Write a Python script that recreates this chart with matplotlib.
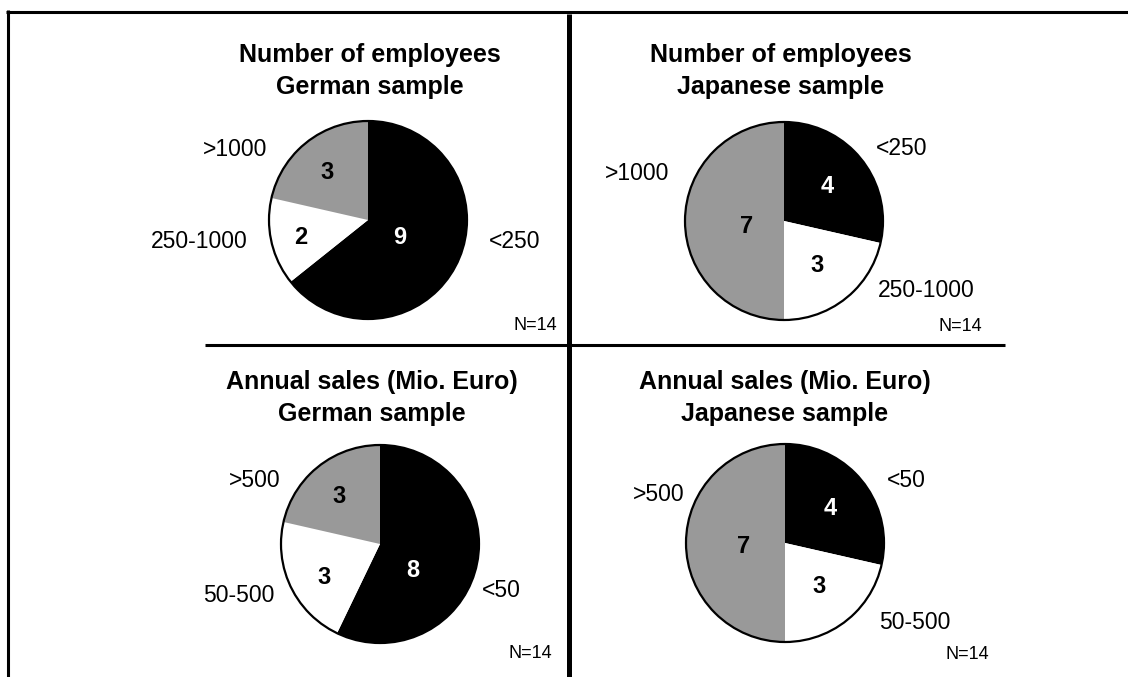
import matplotlib
matplotlib.use("Agg")
import matplotlib.pyplot as plt
from matplotlib.lines import Line2D
from matplotlib.patches import Circle

plt.rcParams['font.family'] = ['Liberation Sans', 'DejaVu Sans']

W, H = 1128, 677

# ---- data ----
titles = [
    "Number of employees\nGerman sample",
    "Number of employees\nJapanese sample",
    "Annual sales (Mio. Euro)\nGerman sample",
    "Annual sales (Mio. Euro)\nJapanese sample",
]
emp_categories = ["<250", "250-1000", ">1000"]
sales_categories = ["<50", "50-500", ">500"]
emp_german = [9, 2, 3]
emp_japanese = [4, 3, 7]
sales_german = [8, 3, 3]
sales_japanese = [4, 3, 7]
sample_n = [14, 14, 14, 14]

colors = ["#000000", "#ffffff", "#999999"]
value_colors = ["white", "black", "black"]

panels = [
    dict(cats=emp_categories, vals=emp_german, center=(368, 220),
         title_xy=(370, 71),
         cat_pos=[(1.48, -0.22), (-1.70, -0.22), (-1.34, 0.71)],
         val_pos=[(0.32, -0.18), (-0.68, -0.18), (-0.41, 0.48)],
         n_pos=(1.69, -1.07)),
    dict(cats=emp_categories, vals=emp_japanese, center=(784, 221),
         title_xy=(781, 71),
         cat_pos=[(1.19, 0.73), (1.44, -0.70), (-1.48, 0.48)],
         val_pos=[(0.44, 0.35), (0.33, -0.45), (-0.38, -0.06)],
         n_pos=(1.78, -1.07)),
    dict(cats=sales_categories, vals=sales_german, center=(380, 544),
         title_xy=(372, 398),
         cat_pos=[(1.23, -0.47), (-1.43, -0.52), (-1.27, 0.64)],
         val_pos=[(0.33, -0.27), (-0.57, -0.34), (-0.41, 0.48)],
         n_pos=(1.52, -1.11)),
    dict(cats=sales_categories, vals=sales_japanese, center=(785, 543),
         title_xy=(785, 398),
         cat_pos=[(1.23, 0.63), (1.31, -0.80), (-1.28, 0.49)],
         val_pos=[(0.46, 0.35), (0.34, -0.44), (-0.42, -0.04)],
         n_pos=(1.84, -1.13)),
]

R = 99

fig = plt.figure(figsize=(W / 100, H / 100), dpi=100)
fig.patch.set_facecolor("white")

for i, p in enumerate(panels):
    cx, cy = p["center"]
    ax = fig.add_axes([(cx - R) / W, (H - cy - R) / H, 2 * R / W, 2 * R / H])
    ax.pie(p["vals"], colors=colors, startangle=90, counterclock=False,
           wedgeprops=dict(linewidth=0))
    ax.add_patch(Circle((0, 0), 1, fill=False, edgecolor="black",
                        linewidth=1.6, clip_on=False))
    ax.set_xlim(-1, 1)
    ax.set_ylim(-1, 1)
    ax.set_aspect("equal")
    ax.axis("off")
    for cat, (x, y) in zip(p["cats"], p["cat_pos"]):
        ax.text(x, y, cat, ha="center", va="center", fontsize=16.5,
                clip_on=False)
    for v, (x, y), c in zip(p["vals"], p["val_pos"], value_colors):
        ax.text(x, y, str(v), ha="center", va="center", fontsize=17,
                fontweight="bold", color=c, clip_on=False)
    ax.text(p["n_pos"][0], p["n_pos"][1], f"N={sample_n[i]}", ha="center",
            va="center", fontsize=13, clip_on=False)
    tx, ty = p["title_xy"]
    fig.text(tx / W, 1 - ty / H, titles[i], ha="center", va="center",
             fontsize=18, fontweight="bold", linespacing=1.38)

def line(x0, y0, x1, y1, lw):
    fig.add_artist(Line2D([x0 / W, x1 / W], [1 - y0 / H, 1 - y1 / H],
                          transform=fig.transFigure, color="black",
                          linewidth=lw, solid_capstyle="butt"))

line(6, 11.5, W, 11.5, 2.2)       # top border
line(7.5, 10, 7.5, H, 2.2)        # left border
line(568.5, 14, 568.5, H, 3.6)    # vertical divider
line(205, 345, 1005, 345, 2.2)    # horizontal divider

fig.savefig("out.png", dpi=100, facecolor="white")
